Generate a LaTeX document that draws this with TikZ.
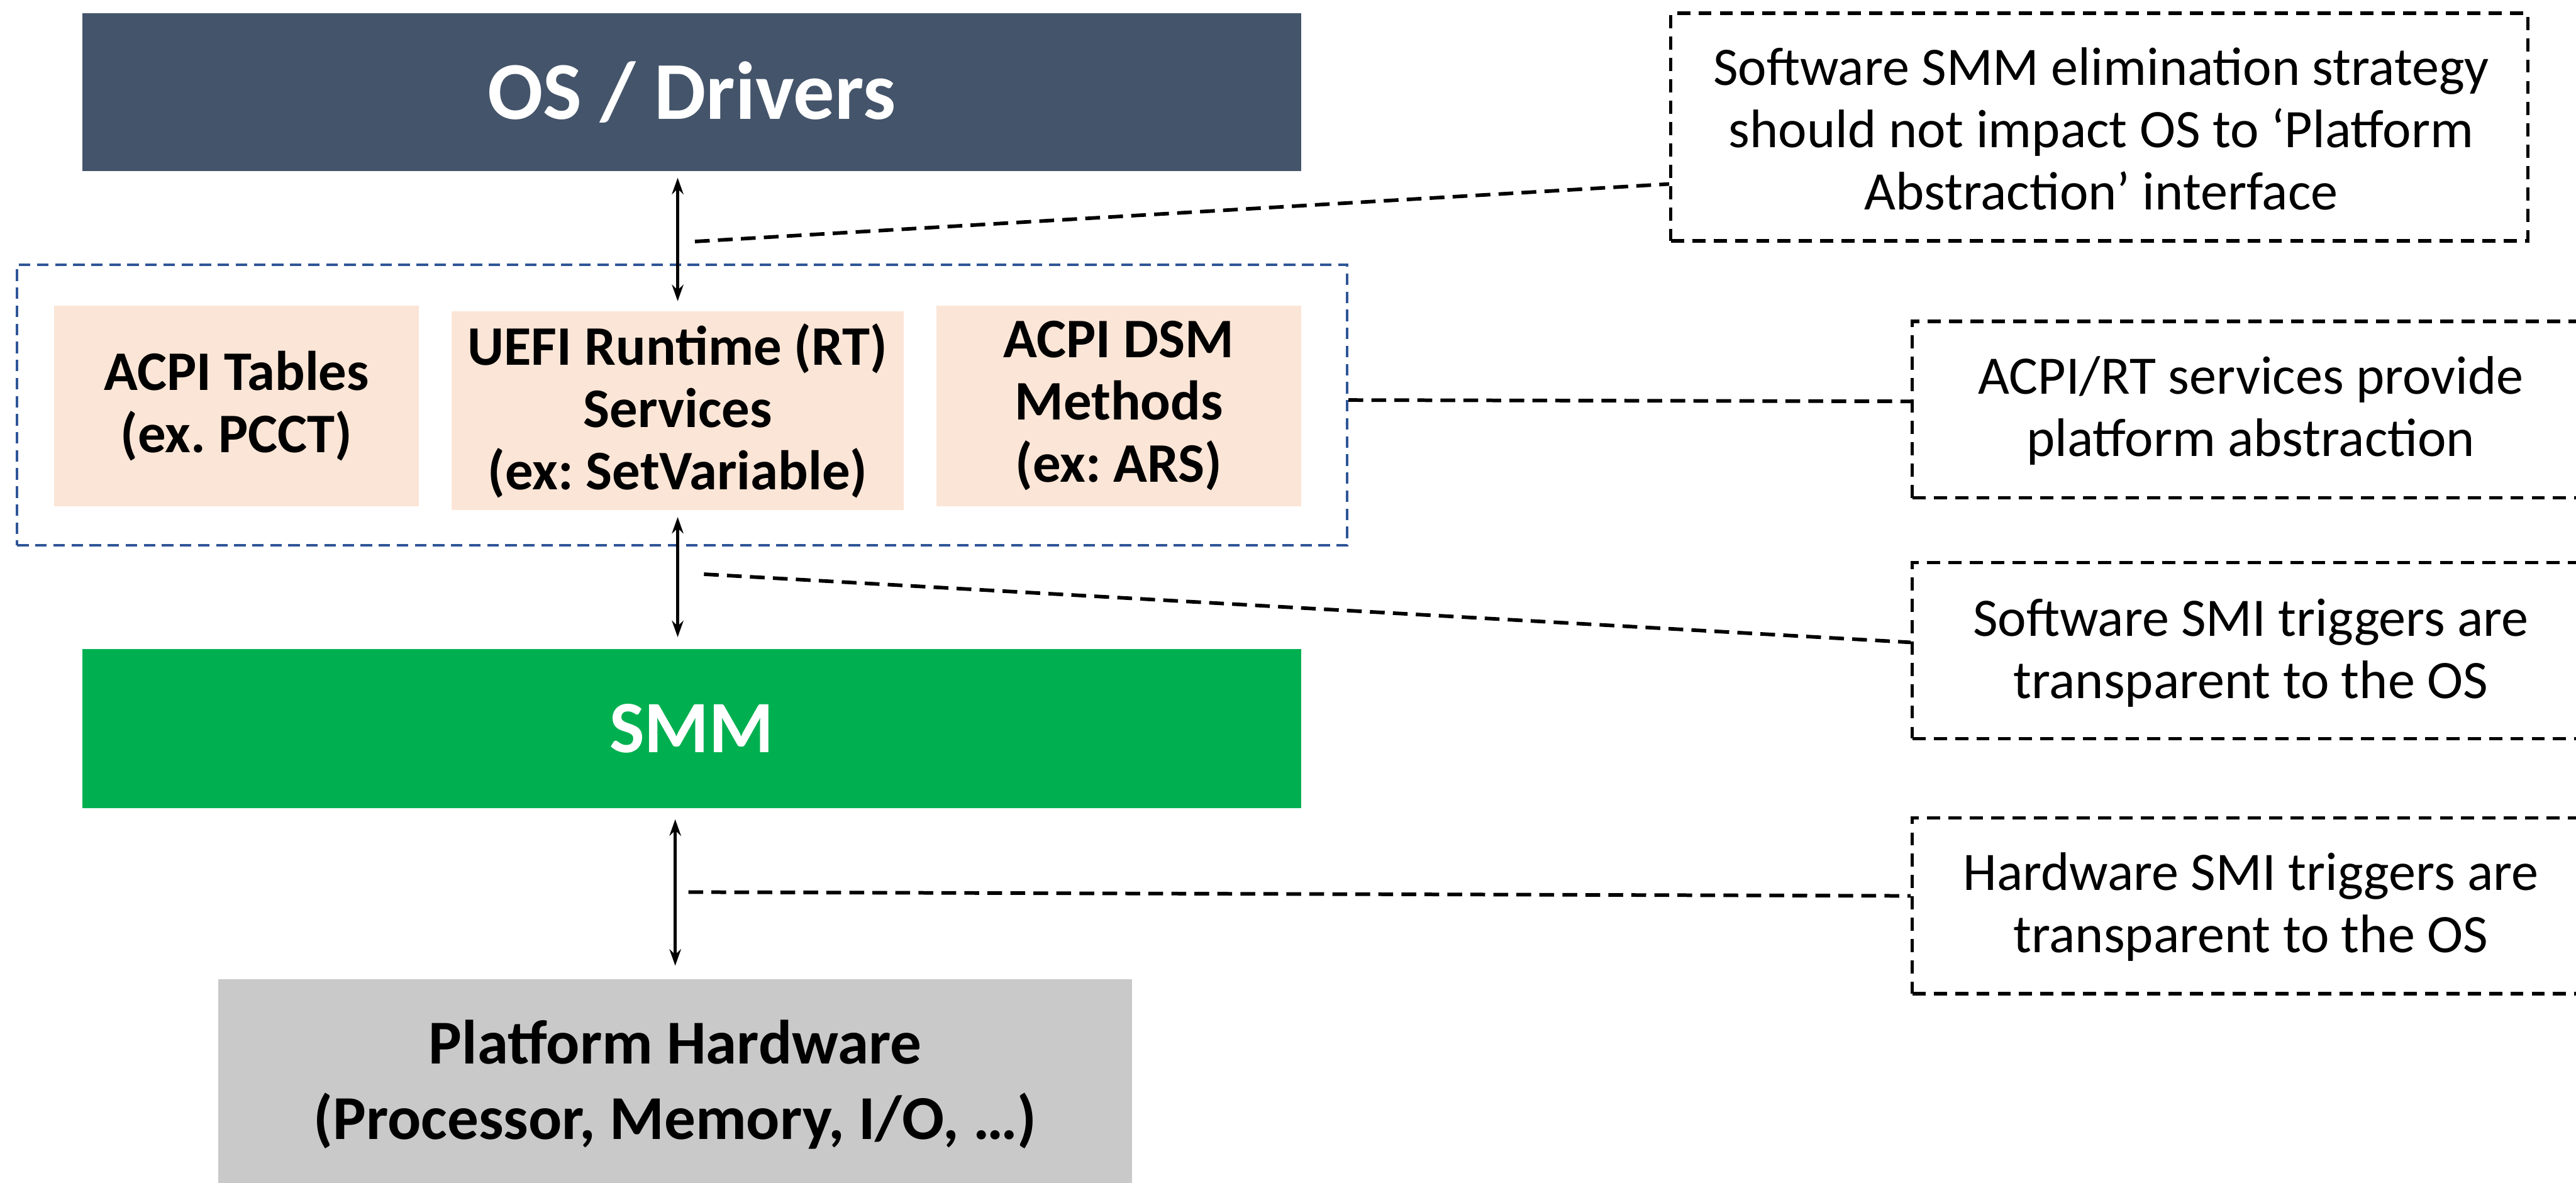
\documentclass[tikz,border=0pt]{standalone}
\usepackage{fontspec}
\setmainfont{Carlito}
\usetikzlibrary{arrows.meta}
\frenchspacing

\definecolor{osfill}{HTML}{44546A}
\definecolor{smmfill}{HTML}{00B050}
\definecolor{svcfill}{HTML}{FBE5D6}
\definecolor{hwfill}{HTML}{C9C9C9}
\definecolor{groupblue}{HTML}{2F5597}

\tikzset{
  layer/.style={draw=none, inner sep=0pt, align=center},
  ostext/.style={font=\fontsize{50}{58}\selectfont\bfseries},
  smmtext/.style={font=\fontsize{45}{54}\selectfont\bfseries},
  svcbox/.style={layer, fill=svcfill, font=\fontsize{34}{38}\selectfont\bfseries},
  hwtext/.style={font=\fontsize{38}{46}\selectfont\bfseries},
  group/.style={draw=groupblue, line width=1.5pt, dash pattern=on 7pt off 4pt, inner sep=0pt},
  notebox/.style={draw=black, line width=2pt, dash pattern=on 8pt off 5pt, inner sep=0pt},
  notetext/.style={align=center, inner sep=0pt, font=\fontsize{33}{38}\selectfont},
  leader/.style={draw=black, line width=2.2pt, dash pattern=on 9pt off 5pt},
  biarrow/.style={draw=black, line width=2pt, {Stealth[length=10pt,width=7pt]}-{Stealth[length=10pt,width=7pt]}},
}

\begin{document}
\begin{tikzpicture}[x=1pt, y=-1pt]
\useasboundingbox (0,0) rectangle (1568,720);
\clip (0,0) rectangle (1568,720);

% software stack
\node[layer, fill=osfill, text=white, ostext, minimum width=742pt, minimum height=96pt]
  (os) at (421,56) {OS / Drivers};
\node[group, minimum width=809.5pt, minimum height=171pt] (grp) at (415.25,246.5) {};
\node[svcbox, minimum width=222pt, minimum height=122pt] (acpi) at (144,247) {ACPI Tables\\(ex. PCCT)};
\node[svcbox, minimum width=275pt, minimum height=121pt] (uefi) at (412.5,250) {UEFI Runtime (RT)\\Services\\(ex: SetVariable)};
\node[svcbox, minimum width=222pt, minimum height=122pt] (dsm) at (681,247) {ACPI DSM\\Methods\\(ex: ARS)};
\node[layer, fill=smmfill, text=white, smmtext, minimum width=742pt, minimum height=97pt]
  (smm) at (421,443.5) {SMM};
\node[layer, fill=hwfill, text=black, hwtext, minimum width=556pt, minimum height=128pt]
  (hw) at (411,660) {Platform Hardware\\(Processor, Memory, I/O, \dots)};

% interfaces between layers
\draw[biarrow, shorten <=4pt, shorten >=6pt] (os.south -| uefi.north) -- (uefi.north);
\draw[biarrow, shorten <=4pt, shorten >=7pt] (uefi.south) -- (uefi.south |- smm.north);
\draw[biarrow, shorten <=6.5pt, shorten >=8pt] (smm.south -| hw.north) -- (hw.north);

% notes
\node[notebox, minimum width=521.6pt, minimum height=138.6pt] (n1) at (1277.8,77.3) {};
\node[notetext] at (1279,78.5) {Software SMM elimination strategy\\should not impact OS to `Platform\\Abstraction' interface};
\node[notebox, minimum width=436pt, minimum height=107.4pt] (n2) at (1382,249.3) {};
\node[notetext] at (1370,250) {ACPI/RT services provide\\platform abstraction};
\node[notebox, minimum width=436pt, minimum height=107.1pt] (n3) at (1382,396) {};
\node[notetext] at (1370,397.5) {Software SMI triggers are\\transparent to the OS};
\node[notebox, minimum width=436pt, minimum height=107.1pt] (n4) at (1382,551.3) {};
\node[notetext] at (1370,552) {Hardware SMI triggers are\\transparent to the OS};

% leader lines
\coordinate (l1) at (423,147);
\coordinate (l3) at (428.5,349.5);
\coordinate (l4) at (419,543);
\draw[leader] (l1) -- ([yshift=-34.7pt]n1.west);
\draw[leader] ([yshift=3pt]grp.east) -- ([yshift=5pt]n2.west);
\draw[leader] (l3) -- ([yshift=5pt]n3.west);
\draw[leader] (l4) -- ([yshift=6pt]n4.west);
\end{tikzpicture}
\end{document}
